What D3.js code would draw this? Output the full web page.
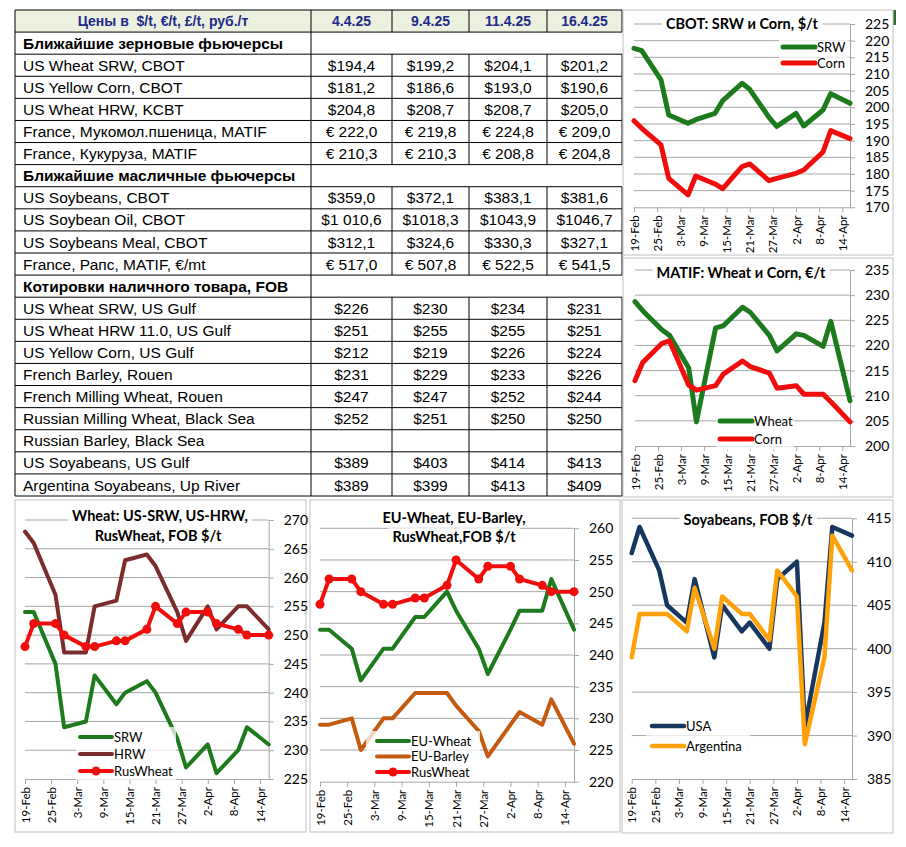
<!DOCTYPE html>
<html>
<head>
<meta charset="utf-8">
<script src="https://cdn.jsdelivr.net/npm/d3@7"></script>
<style>
  body { margin: 0; background: #fff; }
  svg { display: block; }
</style>
</head>
<body>
<svg id="board" width="906" height="847"></svg>
<script>
// ---- table data ----
const tableTitle = "Цены в  $/t, €/t, £/t, руб./т";
const tableDates = ["4.4.25", "9.4.25", "11.4.25", "16.4.25"];
const sectionTitles = ["Ближайшие зерновые фьючерсы", "Ближайшие масличные фьючерсы", "Котировки наличного товара, FOB"];
const grainFutures = [
  ["US Wheat SRW, CBOT", "$194,4", "$199,2", "$204,1", "$201,2"],
  ["US Yellow Corn, CBOT", "$181,2", "$186,6", "$193,0", "$190,6"],
  ["US Wheat HRW, KCBT", "$204,8", "$208,7", "$208,7", "$205,0"],
  ["France, Мукомол.пшеница, MATIF", "€ 222,0", "€ 219,8", "€ 224,8", "€ 209,0"],
  ["France, Кукуруза, MATIF", "€ 210,3", "€ 210,3", "€ 208,8", "€ 204,8"]
];
const oilFutures = [
  ["US Soybeans, CBOT", "$359,0", "$372,1", "$383,1", "$381,6"],
  ["US Soybean Oil, CBOT", "$1 010,6", "$1018,3", "$1043,9", "$1046,7"],
  ["US Soybeans Meal, CBOT", "$312,1", "$324,6", "$330,3", "$327,1"],
  ["France, Рапс, MATIF, €/mt", "€ 517,0", "€ 507,8", "€ 522,5", "€ 541,5"]
];
const cashFob = [
  ["US Wheat SRW, US Gulf", "$226", "$230", "$234", "$231"],
  ["US Wheat HRW 11.0, US Gulf", "$251", "$255", "$255", "$251"],
  ["US Yellow Corn, US Gulf", "$212", "$219", "$226", "$224"],
  ["French Barley, Rouen", "$231", "$229", "$233", "$226"],
  ["French Milling Wheat, Rouen", "$247", "$247", "$252", "$244"],
  ["Russian Milling Wheat, Black Sea", "$252", "$251", "$250", "$250"],
  ["Russian Barley, Black Sea", "", "", "", ""],
  ["US Soyabeans, US Gulf", "$389", "$403", "$414", "$413"],
  ["Argentina Soyabeans, Up River", "$389", "$399", "$413", "$409"]
];

// ---- chart data ----
const pointDates = ["19-Feb", "21-Feb", "26-Feb", "28-Feb", "5-Mar", "7-Mar", "12-Mar", "14-Mar", "19-Mar",
                    "21-Mar", "26-Mar", "28-Mar", "2-Apr", "4-Apr", "9-Apr", "11-Apr", "16-Apr"];
const tickLabels = ["19-Feb", "25-Feb", "3-Mar", "9-Mar", "15-Mar", "21-Mar", "27-Mar", "2-Apr", "8-Apr", "14-Apr"];

const cbotSrw  = [217.7, 217, 208.2, 197.7, 195.2, 196.3, 198.2, 202, 207.2, 205.4, 197, 194.3, 198.2, 194.4, 199.2, 204.1, 201.2];
const cbotCorn = [196, 193.7, 188.7, 178.7, 173.7, 179.4, 177, 175.6, 182.2, 183, 178, 178.7, 180.2, 181.2, 186.6, 193.0, 190.6];
const matifWheat = [228.7, 226.9, 223.1, 222, 215.5, 204.8, 223.5, 223.9, 227.6, 226.6, 222, 218.9, 222.3, 222.0, 219.8, 224.8, 209.0];
const matifCorn  = [213, 216.6, 220.4, 220.9, 212.1, 211.1, 212, 214.3, 216.9, 215.8, 214.5, 211.5, 212, 210.3, 210.3, 208.8, 204.8];
const fobSrw   = [254, 254, 245, 234, 235, 243, 238, 240, 242, 240, 232, 227, 231, 226, 230, 234, 231];
const fobHrw   = [268, 266, 257, 247, 247, 255, 256, 263, 264, 262, 254, 249, 255, 251, 255, 255, 251];
const rusWheat = [248, 252, 252, 250, 248, 248, 249, 249, 251, 255, 252, 254, 254, 252, 251, 250, 250];
const euWheat  = [244, 244, 241, 236, 241, 241, 246, 246, 250, 247, 241, 237, 244, 247, 247, 252, 244];
const euBarley = [229, 229, 230, 225, 230, 230, 234, 234, 234, 232, 228, 224, 229, 231, 229, 233, 226];
const soyUsa   = [411, 414, 409, 405, 403, 408, 399, 405, 402, 403, 400, 408, 410, 391, 403, 414, 413];
const soyArg   = [399, 404, 404, 404, 402, 407, 400, 406, 404, 404, 401, 409, 406, 389, 399, 413, 409];

const GREEN = "#1d7a1d", RED = "#f20d0d", MAROON = "#7b2d2d", BROWN = "#c55a11", NAVY = "#17375e", ORANGE = "#ffa20a";
const CHART_FONT = "Lato, 'Open Sans', sans-serif";
const TABLE_FONT = "'Liberation Sans', Arial, sans-serif";

const svg = d3.select("#board");

// ================= table =================
const colX = [15, 311, 392, 469, 547, 622];
const rows = [];
[[sectionTitles[0], grainFutures], [sectionTitles[1], oilFutures], [sectionTitles[2], cashFob]].forEach(([t, list]) => {
  rows.push({ section: true, label: t });
  list.forEach(r => rows.push({ section: false, label: r[0], vals: r.slice(1) }));
});
const rowY = d3.scaleLinear().domain([0, rows.length + 1]).range([10, 496]);

const tg = svg.append("g").attr("font-family", TABLE_FONT);
tg.append("rect")
  .attr("x", colX[0]).attr("y", rowY(0))
  .attr("width", colX[5] - colX[0]).attr("height", rowY(1) - rowY(0))
  .attr("fill", "#ebf1de");

// horizontal lines
tg.selectAll("line.h").data(d3.range(rows.length + 2)).join("line")
  .attr("x1", colX[0]).attr("x2", colX[5])
  .attr("y1", d => rowY(d)).attr("y2", d => rowY(d))
  .attr("stroke", "#000").attr("stroke-width", 1);

// vertical lines
const vlines = [];
colX.forEach((cx, ci) => vlines.push({ x: cx, i: 0 }));
rows.forEach((r, k) => {
  const i = k + 1;
  if (r.section) { vlines.push({ x: colX[0], i }, { x: colX[1], i }); }
  else colX.forEach(cx => vlines.push({ x: cx, i }));
});
tg.selectAll("line.v").data(vlines).join("line")
  .attr("x1", d => d.x).attr("x2", d => d.x)
  .attr("y1", d => rowY(d.i)).attr("y2", d => rowY(d.i + 1))
  .attr("stroke", "#000").attr("stroke-width", 1);

// header
const hdrY = (rowY(0) + rowY(1)) / 2;
tg.append("text").attr("x", (colX[0] + colX[1]) / 2).attr("y", hdrY).attr("dy", "0.36em")
  .attr("text-anchor", "middle").attr("font-weight", "bold").attr("font-size", 14)
  .attr("fill", "#1f2a8a").attr("xml:space", "preserve").text(tableTitle);
tableDates.forEach((d, j) => {
  tg.append("text").attr("x", (colX[j + 1] + colX[j + 2]) / 2).attr("y", hdrY).attr("dy", "0.36em")
    .attr("text-anchor", "middle").attr("font-weight", "bold").attr("font-size", 14)
    .attr("fill", "#1f2a8a").text(d);
});

rows.forEach((r, k) => {
  const cy = (rowY(k + 1) + rowY(k + 2)) / 2;
  tg.append("text").attr("x", colX[0] + 8).attr("y", cy).attr("dy", "0.36em")
    .attr("font-size", 15.5).attr("font-weight", r.section ? "bold" : "normal")
    .attr("fill", "#000").text(r.label);
  if (!r.section) {
    r.vals.forEach((v, j) => {
      tg.append("text").attr("x", (colX[j + 1] + colX[j + 2]) / 2).attr("y", cy).attr("dy", "0.36em")
        .attr("text-anchor", "middle").attr("font-size", 15.5).attr("fill", "#000").text(v);
    });
  }
});

// ================= charts =================
const parse = s => d3.timeParse("%d-%b-%Y")(s + "-2025");
const fmt = d3.timeFormat("%-d-%b");

const charts = [
  { panel: [623, 10, 893, 255], x0: 634, x1: 850, yT: 24, yB: 207.3, yMin: 170, yMax: 225, step: 5,
    title: [{ t: "CBOT: SRW и Corn, $/t", x: 742, y: 24 }],
    series: [{ name: "SRW", vals: cbotSrw, color: GREEN, w: 5 }, { name: "Corn", vals: cbotCorn, color: RED, w: 5 }],
    legend: { x: 783, y: 47, dy: 16, box: [779, 34, 70, 38] } },
  { panel: [623, 258, 893, 497], x0: 635, x1: 850, yT: 270, yB: 446, yMin: 200, yMax: 235, step: 5,
    title: [{ t: "MATIF: Wheat и Corn, €/t", x: 741, y: 273 }],
    series: [{ name: "Wheat", vals: matifWheat, color: GREEN, w: 5 }, { name: "Corn", vals: matifCorn, color: RED, w: 5 }],
    legend: { x: 720, y: 421, dy: 18, box: [716, 410, 78, 40] } },
  { panel: [15, 500, 306, 832], x0: 25, x1: 268.7, yT: 520, yB: 779, yMin: 225, yMax: 270, step: 5,
    title: [{ t: "Wheat: US-SRW, US-HRW,", x: 160, y: 516 }, { t: "RusWheat, FOB $/t", x: 158, y: 536 }],
    series: [{ name: "SRW", vals: fobSrw, color: GREEN, w: 4 }, { name: "HRW", vals: fobHrw, color: MAROON, w: 4 },
             { name: "RusWheat", vals: rusWheat, color: RED, w: 4, marker: true }],
    legend: { x: 80, y: 737, dy: 17, box: [76, 727, 100, 53] } },
  { panel: [310, 500, 620, 832], x0: 320, x1: 574, yT: 528.3, yB: 781.7, yMin: 220, yMax: 260, step: 5,
    title: [{ t: "EU-Wheat, EU-Barley,", x: 454, y: 518 }, { t: "RusWheat,FOB $/t", x: 454, y: 537 }],
    series: [{ name: "EU-Wheat", vals: euWheat, color: GREEN, w: 4 }, { name: "EU-Barley", vals: euBarley, color: BROWN, w: 4 },
             { name: "RusWheat", vals: rusWheat, color: RED, w: 4, marker: true }],
    legend: { x: 377, y: 741, dy: 15.5, box: [366, 731, 114, 50] } },
  { panel: [622, 500, 893, 833], x0: 631.7, x1: 852, yT: 518.3, yB: 779, yMin: 385, yMax: 415, step: 5,
    title: [{ t: "Soyabeans, FOB $/t", x: 748, y: 520 }],
    series: [{ name: "USA", vals: soyUsa, color: NAVY, w: 4.5 }, { name: "Argentina", vals: soyArg, color: ORANGE, w: 4.5 }],
    legend: { x: 652, y: 726, dy: 20, box: [646, 714, 104, 44] } }
];

const tickDates = tickLabels.map(parse);
const dates = pointDates.map(parse);

function drawChart(c) {
  const g = svg.append("g").attr("font-family", CHART_FONT);
  const [px0, py0, px1, py1] = c.panel;
  g.append("rect").attr("x", px0).attr("y", py0).attr("width", px1 - px0).attr("height", py1 - py0)
    .attr("fill", "#fff").attr("stroke", "#bfbfbf").attr("stroke-width", 1);

  const x = d3.scaleTime().domain([dates[0], dates[dates.length - 1]]).range([c.x0, c.x1]);
  const y = d3.scaleLinear().domain([c.yMin, c.yMax]).range([c.yB, c.yT]);
  const ticks = d3.range(c.yMin, c.yMax + 0.001, c.step);

  g.selectAll("line.grid").data(ticks.slice(1)).join("line")
    .attr("x1", c.x0).attr("x2", c.x1).attr("y1", d => y(d)).attr("y2", d => y(d))
    .attr("stroke", "#a6a6a6").attr("stroke-width", 1);

  const xa = g.append("g").attr("transform", `translate(0,${c.yB})`)
    .call(d3.axisBottom(x).tickValues(tickDates).tickFormat(fmt).tickSize(5).tickSizeOuter(0));
  xa.attr("font-family", CHART_FONT).attr("font-size", 11.5);
  xa.selectAll("path, line").attr("stroke", "#a6a6a6");
  xa.selectAll("text").attr("transform", "rotate(-90)").attr("x", -8).attr("y", 0)
    .attr("dy", "0.35em").attr("text-anchor", "end").attr("fill", "#000");

  const ya = g.append("g").attr("transform", `translate(${c.x1},0)`)
    .call(d3.axisRight(y).tickValues(ticks).tickSize(5).tickPadding(10).tickSizeOuter(0));
  ya.attr("font-family", CHART_FONT).attr("font-size", 14);
  ya.selectAll("path, line").attr("stroke", "#a6a6a6");
  ya.selectAll("text").attr("fill", "#000");

  c.title.forEach(tl => {
    const t = g.append("text").attr("x", tl.x).attr("y", tl.y).attr("dy", "0.36em")
      .attr("text-anchor", "middle").attr("font-weight", "bold").attr("font-size", 14.5)
      .attr("fill", "#000").text(tl.t);
    const b = t.node().getBBox();
    g.insert("rect", () => t.node()).attr("x", b.x - 4).attr("y", b.y).attr("width", b.width + 8)
      .attr("height", b.height).attr("fill", "#fff");
  });

  const line = d3.line().x((d, i) => x(dates[i])).y(d => y(d));
  c.series.forEach(s => {
    g.append("path").datum(s.vals).attr("d", line).attr("fill", "none")
      .attr("stroke", s.color).attr("stroke-width", s.w)
      .attr("stroke-linejoin", "round").attr("stroke-linecap", "round");
    if (s.marker) {
      g.selectAll(null).data(s.vals).join("circle")
        .attr("cx", (d, i) => x(dates[i])).attr("cy", d => y(d)).attr("r", 4.5).attr("fill", s.color);
    }
  });

  const L = c.legend;
  g.append("rect").attr("x", L.box[0]).attr("y", L.box[1]).attr("width", L.box[2]).attr("height", L.box[3])
    .attr("fill", "#fff").attr("fill-opacity", 0.75);
  c.series.forEach((s, i) => {
    const ly = L.y + i * L.dy;
    g.append("line").attr("x1", L.x).attr("x2", L.x + 32).attr("y1", ly).attr("y2", ly)
      .attr("stroke", s.color).attr("stroke-width", s.w).attr("stroke-linecap", "round");
    if (s.marker) g.append("circle").attr("cx", L.x + 16).attr("cy", ly).attr("r", 4.5).attr("fill", s.color);
    g.append("text").attr("x", L.x + 34).attr("y", ly).attr("dy", "0.36em")
      .attr("font-size", 13).attr("fill", "#000").text(s.name);
  });
}

charts.forEach(drawChart);

// small dark-green edge mark at top right
svg.append("rect").attr("x", 893.5).attr("y", 10).attr("width", 2.5).attr("height", 15).attr("fill", "#2e6b2e");
</script>
</body>
</html>
